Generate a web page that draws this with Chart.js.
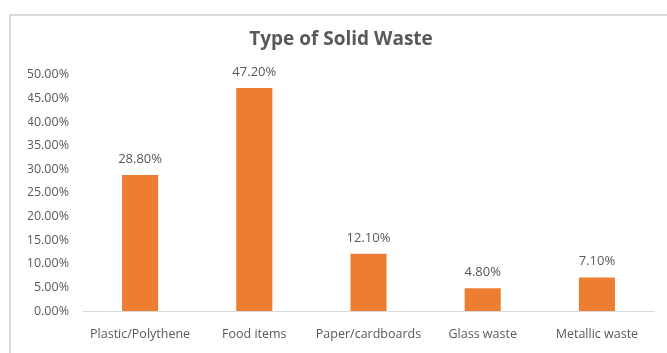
<!DOCTYPE html>
<html lang="en">
<head>
    <meta charset="UTF-8">
    <title>Type of Solid Waste</title>
    <script src="https://cdn.jsdelivr.net/npm/chart.js"></script>
    <style>
        html, body {
            margin: 0;
            padding: 0;
            background: #ffffff;
            overflow: hidden;
        }
        .frame {
            position: absolute;
            left: 9px;
            top: 14px;
            width: 656px;
            height: 337px;
            border-left: 2px solid #d9d9d9;
            border-top: 2px solid #d9d9d9;
        }
        .wrap {
            position: absolute;
            left: 0;
            top: 0;
            width: 667px;
            height: 353px;
        }
    </style>
</head>
<body>
    <div class="frame"></div>
    <div class="wrap">
        <canvas id="wasteChart" width="667" height="353"></canvas>
    </div>
    <script>
        const categories = ["Plastic/Polythene", "Food items", "Paper/cardboards", "Glass waste", "Metallic waste"];
        const shares = [28.8, 47.2, 12.1, 4.8, 7.1];

        const textColor = "#595959";
        const fontFamily = "'Open Sans', sans-serif";

        // simple value labels above each bar
        const barLabels = {
            id: "barLabels",
            afterDatasetsDraw(chart) {
                const ctx = chart.ctx;
                const meta = chart.getDatasetMeta(0);
                ctx.save();
                ctx.font = "13px " + fontFamily;
                ctx.fillStyle = textColor;
                ctx.textAlign = "center";
                ctx.textBaseline = "middle";
                meta.data.forEach((bar, i) => {
                    ctx.fillText(shares[i].toFixed(2) + "%", bar.x, bar.y - 16);
                });
                ctx.restore();
            }
        };

        new Chart(document.getElementById("wasteChart"), {
            type: "bar",
            data: {
                labels: categories,
                datasets: [{
                    data: shares,
                    backgroundColor: "#ED7D31",
                    categoryPercentage: 1,
                    barPercentage: 0.316
                }]
            },
            options: {
                responsive: false,
                animation: false,
                layout: {
                    padding: { left: 28, right: 13, top: 0, bottom: 0 }
                },
                plugins: {
                    legend: { display: false },
                    tooltip: { enabled: false },
                    title: {
                        display: true,
                        text: "Type of Solid Waste",
                        color: textColor,
                        font: { family: fontFamily, size: 19, weight: "bold" },
                        padding: { top: 28, bottom: 24 }
                    }
                },
                scales: {
                    x: {
                        grid: { display: false, drawTicks: false },
                        border: { display: true, color: "#d9d9d9", width: 1 },
                        ticks: {
                            color: textColor,
                            font: { family: fontFamily, size: 12.5 },
                            padding: 16,
                            maxRotation: 0
                        },
                        afterFit(scale) {
                            scale.height = 42;
                        }
                    },
                    y: {
                        min: 0,
                        max: 50,
                        grid: { display: false, drawTicks: false },
                        border: { display: false },
                        ticks: {
                            stepSize: 5,
                            color: textColor,
                            font: { family: fontFamily, size: 12.5 },
                            padding: 14,
                            callback: v => v.toFixed(2) + "%"
                        },
                        afterFit(scale) {
                            scale.width = 55;
                        }
                    }
                }
            },
            plugins: [barLabels]
        });
    </script>
</body>
</html>
